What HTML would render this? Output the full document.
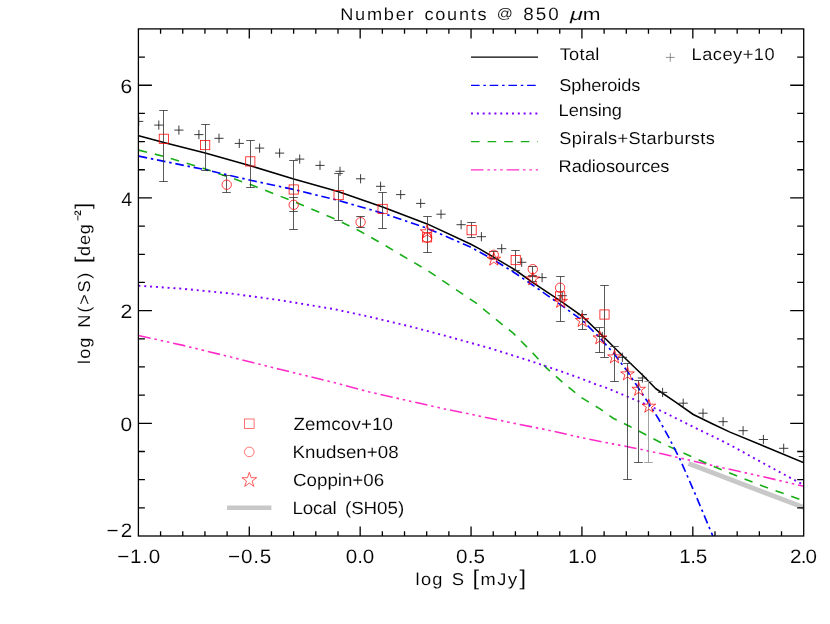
<!DOCTYPE html>
<html><head><meta charset="utf-8"><title>Number counts @ 850 um</title>
<style>
html,body{margin:0;padding:0;background:#fff;}
svg{display:block;}
text{font-family:"Liberation Sans",sans-serif;text-rendering:geometricPrecision;}
</style></head>
<body>
<svg width="830" height="624" viewBox="0 0 830 624">
<defs>
<clipPath id="pc"><rect x="138.40" y="28.90" width="665.30" height="507.70"/></clipPath>
<clipPath id="pc2"><rect x="138.40" y="28.90" width="665.90" height="507.10"/></clipPath>
</defs>
<rect x="0" y="0" width="830" height="624" fill="#fff"/>
<g clip-path="url(#pc)" fill="none" stroke-linejoin="round">
<polyline points="688.5,463.5 804.0,507.6" stroke="#c8c8c8" stroke-width="4.8"/>
<polyline points="138.4,335.5 183.2,345.4 231.4,357.2 279.6,369.3 335.0,382.8 368.6,391.8 407.1,400.5 445.7,409.2 470.0,414.1 508.6,422.2 547.1,429.9 585.7,438.6 630.0,447.2 662.0,453.8 686.0,459.4 715.0,466.1 763.1,476.7 803.7,486.3" stroke="#ff2cc8" stroke-width="1.6" stroke-dasharray="12.5 3.9 2.5 3.9 2.5 3.9 2.5 3.9"/>
<polyline points="138.7,150.1 163.8,156.4 205.2,168.9 250.3,184.5 293.7,201.5 338.0,220.3 360.6,231.5 382.6,244.0 427.2,270.3 455.3,289.1 476.6,303.4 500.0,322.7 513.5,333.4 532.6,352.8 546.9,368.4 562.7,382.4 580.3,396.8 600.0,408.9 613.6,418.5 630.0,426.5 662.0,443.3 692.5,457.0 715.0,467.1 763.1,486.3 804.0,500.8" stroke="#18ae18" stroke-width="1.6" stroke-dasharray="8.6 8"/>
<polyline points="138.4,285.7 183.2,288.8 231.4,293.6 279.6,300.1 335.0,309.3 368.6,316.6 407.1,325.7 445.7,335.9 488.5,347.8 528.0,360.2 558.9,370.6 580.3,378.2 595.0,384.0 608.0,388.4 630.0,397.7 662.0,411.3 694.1,427.3 715.0,437.4 730.0,444.9 763.1,463.1 803.7,485.0" stroke="#7f00ff" stroke-width="1.9" stroke-dasharray="2 3.85"/>
<polyline points="138.7,156.1 205.2,169.7 250.3,180.2 293.7,189.5 338.0,200.3 382.6,213.2 427.2,228.3 470.4,247.0 480.0,252.2 494.4,260.3 515.3,273.2 532.9,285.2 560.0,304.3 582.4,320.4 600.1,338.1 614.5,354.3 627.3,371.2 638.8,388.5 649.2,404.1 658.8,419.3 668.5,436.9 679.7,458.6 694.9,493.3 712.8,536.0" stroke="#0000ff" stroke-width="1.65" stroke-dasharray="8.6 3.8 2.5 3.8"/>
<polyline points="138.7,135.8 163.8,142.6 205.2,153.1 250.3,165.7 293.7,179.0 338.0,191.5 382.6,207.1 427.2,223.9 470.4,244.0 480.0,249.1 494.4,257.7 515.3,270.0 532.9,282.6 560.0,300.6 582.4,316.4 603.3,336.5 624.1,357.3 643.3,375.7 655.6,388.5 674.9,401.7 693.3,414.5 713.3,424.3 730.0,432.1 804.0,462.8" stroke="#000" stroke-width="1.55"/>
</g>
<g clip-path="url(#pc2)">
<path d="M134.1 121.4h9.2M138.7 116.8v9.2" stroke="#262626" stroke-width="0.9" fill="none"/>
<path d="M154.2 125.1h9.2M158.8 120.5v9.2" stroke="#262626" stroke-width="0.9" fill="none"/>
<path d="M174.3 130.1h9.2M178.9 125.5v9.2" stroke="#262626" stroke-width="0.9" fill="none"/>
<path d="M194.3 134.6h9.2M198.9 130.0v9.2" stroke="#262626" stroke-width="0.9" fill="none"/>
<path d="M214.4 138.3h9.2M219.0 133.7v9.2" stroke="#262626" stroke-width="0.9" fill="none"/>
<path d="M234.7 143.4h9.2M239.3 138.8v9.2" stroke="#262626" stroke-width="0.9" fill="none"/>
<path d="M255.0 148.1h9.2M259.6 143.5v9.2" stroke="#262626" stroke-width="0.9" fill="none"/>
<path d="M275.0 153.1h9.2M279.6 148.5v9.2" stroke="#262626" stroke-width="0.9" fill="none"/>
<path d="M295.1 159.1h9.2M299.7 154.5v9.2" stroke="#262626" stroke-width="0.9" fill="none"/>
<path d="M315.4 165.4h9.2M320.0 160.8v9.2" stroke="#262626" stroke-width="0.9" fill="none"/>
<path d="M335.4 171.3h9.2M340.0 166.7v9.2" stroke="#262626" stroke-width="0.9" fill="none"/>
<path d="M356.0 178.8h9.2M360.6 174.2v9.2" stroke="#262626" stroke-width="0.9" fill="none"/>
<path d="M376.0 186.3h9.2M380.6 181.7v9.2" stroke="#262626" stroke-width="0.9" fill="none"/>
<path d="M396.1 194.6h9.2M400.7 190.0v9.2" stroke="#262626" stroke-width="0.9" fill="none"/>
<path d="M416.1 203.4h9.2M420.7 198.8v9.2" stroke="#262626" stroke-width="0.9" fill="none"/>
<path d="M436.4 214.2h9.2M441.0 209.6v9.2" stroke="#262626" stroke-width="0.9" fill="none"/>
<path d="M456.5 224.7h9.2M461.1 220.1v9.2" stroke="#262626" stroke-width="0.9" fill="none"/>
<path d="M476.8 236.7h9.2M481.4 232.1v9.2" stroke="#262626" stroke-width="0.9" fill="none"/>
<path d="M497.1 248.7h9.2M501.7 244.1v9.2" stroke="#262626" stroke-width="0.9" fill="none"/>
<path d="M517.1 262.3h9.2M521.7 257.7v9.2" stroke="#262626" stroke-width="0.9" fill="none"/>
<path d="M537.5 277.6h9.2M542.1 273.0v9.2" stroke="#262626" stroke-width="0.9" fill="none"/>
<path d="M557.6 295.7h9.2M562.2 291.1v9.2" stroke="#262626" stroke-width="0.9" fill="none"/>
<path d="M577.6 314.7h9.2M582.2 310.1v9.2" stroke="#262626" stroke-width="0.9" fill="none"/>
<path d="M597.7 336.5h9.2M602.3 331.9v9.2" stroke="#262626" stroke-width="0.9" fill="none"/>
<path d="M617.8 357.3h9.2M622.4 352.7v9.2" stroke="#262626" stroke-width="0.9" fill="none"/>
<path d="M637.8 378.0h9.2M642.4 373.4v9.2" stroke="#262626" stroke-width="0.9" fill="none"/>
<path d="M658.0 392.4h9.2M662.6 387.8v9.2" stroke="#262626" stroke-width="0.9" fill="none"/>
<path d="M678.6 403.2h9.2M683.2 398.6v9.2" stroke="#262626" stroke-width="0.9" fill="none"/>
<path d="M698.4 413.2h9.2M703.0 408.6v9.2" stroke="#262626" stroke-width="0.9" fill="none"/>
<path d="M718.5 421.7h9.2M723.1 417.1v9.2" stroke="#262626" stroke-width="0.9" fill="none"/>
<path d="M738.5 430.7h9.2M743.1 426.1v9.2" stroke="#262626" stroke-width="0.9" fill="none"/>
<path d="M758.8 439.5h9.2M763.4 434.9v9.2" stroke="#262626" stroke-width="0.9" fill="none"/>
<path d="M779.1 448.3h9.2M783.7 443.7v9.2" stroke="#262626" stroke-width="0.9" fill="none"/>
<path d="M798.8 456.5h9.2M803.4 451.9v9.2" stroke="#262626" stroke-width="0.9" fill="none"/>
</g>
<path d="M163.5 110.5V181.5M159.2 110.5h8.6M159.2 181.5h8.6" stroke="#303030" stroke-width="0.8" fill="none"/>
<path d="M205.5 124.5V170.5M201.2 124.5h8.6M201.2 170.5h8.6" stroke="#303030" stroke-width="0.8" fill="none"/>
<path d="M250.5 140.5V187.5M246.2 140.5h8.6M246.2 187.5h8.6" stroke="#303030" stroke-width="0.8" fill="none"/>
<path d="M293.5 160.5V229.5M289.2 160.5h8.6M289.2 229.5h8.6" stroke="#303030" stroke-width="0.8" fill="none"/>
<path d="M338.5 173.5V220.5M334.2 173.5h8.6M334.2 220.5h8.6" stroke="#303030" stroke-width="0.8" fill="none"/>
<path d="M382.5 192.5V228.5M378.2 192.5h8.6M378.2 228.5h8.6" stroke="#303030" stroke-width="0.8" fill="none"/>
<path d="M427.5 216.5V252.5M423.2 216.5h8.6M423.2 252.5h8.6" stroke="#303030" stroke-width="0.8" fill="none"/>
<path d="M471.5 222.5V237.5M467.2 222.5h8.6M467.2 237.5h8.6" stroke="#303030" stroke-width="0.8" fill="none"/>
<path d="M515.5 250.5V270.5M511.2 250.5h8.6M511.2 270.5h8.6" stroke="#303030" stroke-width="0.8" fill="none"/>
<path d="M560.5 276.5V321.5M556.2 276.5h8.6M556.2 321.5h8.6" stroke="#303030" stroke-width="0.8" fill="none"/>
<path d="M604.5 285.5V357.5M600.2 285.5h8.6M600.2 357.5h8.6" stroke="#303030" stroke-width="0.8" fill="none"/>
<path d="M226.5 175.5V192.5M222.2 175.5h8.6M222.2 192.5h8.6" stroke="#303030" stroke-width="0.8" fill="none"/>
<path d="M293.5 197.5V211.5M289.2 197.5h8.6M289.2 211.5h8.6" stroke="#303030" stroke-width="0.8" fill="none"/>
<path d="M360.5 216.5V227.5M356.2 216.5h8.6M356.2 227.5h8.6" stroke="#303030" stroke-width="0.8" fill="none"/>
<path d="M493.5 251.5V258.5M489.2 251.5h8.6M489.2 258.5h8.6" stroke="#303030" stroke-width="0.8" fill="none"/>
<path d="M532.5 266.5V275.5M528.2 266.5h8.6M528.2 275.5h8.6" stroke="#303030" stroke-width="0.8" fill="none"/>
<path d="M532.5 276.5V281.5M528.2 276.5h8.6M528.2 281.5h8.6" stroke="#303030" stroke-width="0.8" fill="none"/>
<path d="M582.5 314.5V329.5M578.2 314.5h8.6M578.2 329.5h8.6" stroke="#303030" stroke-width="0.8" fill="none"/>
<path d="M599.5 327.5V352.5M595.2 327.5h8.6M595.2 352.5h8.6" stroke="#303030" stroke-width="0.8" fill="none"/>
<path d="M614.5 346.5V381.5M610.2 346.5h8.6M610.2 381.5h8.6" stroke="#303030" stroke-width="0.8" fill="none"/>
<path d="M627.5 363.5V479.5M623.2 363.5h8.6M623.2 479.5h8.6" stroke="#303030" stroke-width="0.8" fill="none"/>
<path d="M638.5 380.5V462.5M634.2 380.5h8.6M634.2 462.5h8.6" stroke="#303030" stroke-width="0.8" fill="none"/>
<path d="M648.5 381.5V462.5M644.2 381.5h8.6M644.2 462.5h8.6" stroke="#8c8c8c" stroke-width="0.8" fill="none"/>
<rect x="159.2" y="134.2" width="9.2" height="9.2" stroke="#f00" stroke-width="0.75" fill="none"/>
<rect x="200.6" y="140.5" width="9.2" height="9.2" stroke="#f00" stroke-width="0.75" fill="none"/>
<rect x="245.7" y="156.8" width="9.2" height="9.2" stroke="#f00" stroke-width="0.75" fill="none"/>
<rect x="289.1" y="184.9" width="9.2" height="9.2" stroke="#f00" stroke-width="0.75" fill="none"/>
<rect x="334.0" y="190.5" width="9.2" height="9.2" stroke="#f00" stroke-width="0.75" fill="none"/>
<rect x="378.0" y="204.3" width="9.2" height="9.2" stroke="#f00" stroke-width="0.75" fill="none"/>
<rect x="422.5" y="232.7" width="9.2" height="9.2" stroke="#f00" stroke-width="0.75" fill="none"/>
<rect x="467.0" y="225.6" width="9.2" height="9.2" stroke="#f00" stroke-width="0.75" fill="none"/>
<rect x="511.1" y="255.5" width="9.2" height="9.2" stroke="#f00" stroke-width="0.75" fill="none"/>
<rect x="555.6" y="291.8" width="9.2" height="9.2" stroke="#f00" stroke-width="0.75" fill="none"/>
<rect x="599.9" y="309.9" width="9.2" height="9.2" stroke="#f00" stroke-width="0.75" fill="none"/>
<circle cx="226.7" cy="184.7" r="4.7" stroke="#f00" stroke-width="0.75" fill="none"/>
<circle cx="293.7" cy="204.8" r="4.7" stroke="#f00" stroke-width="0.75" fill="none"/>
<circle cx="360.6" cy="222.2" r="4.7" stroke="#f00" stroke-width="0.75" fill="none"/>
<circle cx="427.1" cy="237.8" r="4.7" stroke="#f00" stroke-width="0.75" fill="none"/>
<circle cx="493.8" cy="254.8" r="4.7" stroke="#f00" stroke-width="0.75" fill="none"/>
<circle cx="532.8" cy="269.2" r="4.7" stroke="#f00" stroke-width="0.75" fill="none"/>
<circle cx="560.1" cy="287.7" r="4.7" stroke="#f00" stroke-width="0.75" fill="none"/>
<polygon points="427.1,224.8 428.7,229.8 433.9,229.8 429.7,232.8 431.3,237.8 427.1,234.8 422.9,237.8 424.5,232.8 420.3,229.8 425.5,229.8" stroke="#f00" stroke-width="0.75" fill="none"/>
<polygon points="493.8,252.2 495.4,257.2 500.6,257.2 496.4,260.2 498.0,265.2 493.8,262.2 489.6,265.2 491.2,260.2 487.0,257.2 492.2,257.2" stroke="#f00" stroke-width="0.75" fill="none"/>
<polygon points="532.8,271.9 534.4,276.9 539.6,276.9 535.4,279.9 537.0,284.9 532.8,281.9 528.6,284.9 530.2,279.9 526.0,276.9 531.2,276.9" stroke="#f00" stroke-width="0.75" fill="none"/>
<polygon points="560.7,294.4 562.3,299.4 567.5,299.4 563.3,302.4 564.9,307.4 560.7,304.4 556.5,307.4 558.1,302.4 553.9,299.4 559.1,299.4" stroke="#f00" stroke-width="0.75" fill="none"/>
<polygon points="582.2,313.5 583.8,318.5 589.0,318.5 584.8,321.5 586.4,326.5 582.2,323.5 578.0,326.5 579.6,321.5 575.4,318.5 580.6,318.5" stroke="#f00" stroke-width="0.75" fill="none"/>
<polygon points="599.8,330.9 601.4,335.9 606.6,335.9 602.4,338.9 604.0,343.9 599.8,340.9 595.6,343.9 597.2,338.9 593.0,335.9 598.2,335.9" stroke="#f00" stroke-width="0.75" fill="none"/>
<polygon points="614.5,349.9 616.1,354.9 621.3,354.9 617.1,357.9 618.7,362.9 614.5,359.9 610.3,362.9 611.9,357.9 607.7,354.9 612.9,354.9" stroke="#f00" stroke-width="0.75" fill="none"/>
<polygon points="627.5,366.9 629.1,371.9 634.3,371.9 630.1,374.9 631.7,379.9 627.5,376.9 623.3,379.9 624.9,374.9 620.7,371.9 625.9,371.9" stroke="#f00" stroke-width="0.75" fill="none"/>
<polygon points="638.7,382.3 640.3,387.3 645.5,387.3 641.3,390.3 642.9,395.3 638.7,392.3 634.5,395.3 636.1,390.3 631.9,387.3 637.1,387.3" stroke="#f00" stroke-width="0.75" fill="none"/>
<polygon points="648.9,399.2 650.5,404.2 655.7,404.2 651.5,407.2 653.1,412.2 648.9,409.2 644.7,412.2 646.3,407.2 642.1,404.2 647.3,404.2" stroke="#f00" stroke-width="0.75" fill="none"/>
<path d="M160.58 536.00v-4.8M160.58 28.90v4.8M182.75 536.00v-4.8M182.75 28.90v4.8M204.93 536.00v-4.8M204.93 28.90v4.8M227.11 536.00v-4.8M227.11 28.90v4.8M249.28 536.00v-9.6M249.28 28.90v9.6M271.46 536.00v-4.8M271.46 28.90v4.8M293.64 536.00v-4.8M293.64 28.90v4.8M315.81 536.00v-4.8M315.81 28.90v4.8M337.99 536.00v-4.8M337.99 28.90v4.8M360.17 536.00v-9.6M360.17 28.90v9.6M382.34 536.00v-4.8M382.34 28.90v4.8M404.52 536.00v-4.8M404.52 28.90v4.8M426.70 536.00v-4.8M426.70 28.90v4.8M448.87 536.00v-4.8M448.87 28.90v4.8M471.05 536.00v-9.6M471.05 28.90v9.6M493.23 536.00v-4.8M493.23 28.90v4.8M515.40 536.00v-4.8M515.40 28.90v4.8M537.58 536.00v-4.8M537.58 28.90v4.8M559.76 536.00v-4.8M559.76 28.90v4.8M581.93 536.00v-9.6M581.93 28.90v9.6M604.11 536.00v-4.8M604.11 28.90v4.8M626.29 536.00v-4.8M626.29 28.90v4.8M648.46 536.00v-4.8M648.46 28.90v4.8M670.64 536.00v-4.8M670.64 28.90v4.8M692.82 536.00v-9.6M692.82 28.90v9.6M714.99 536.00v-4.8M714.99 28.90v4.8M737.17 536.00v-4.8M737.17 28.90v4.8M759.35 536.00v-4.8M759.35 28.90v4.8M781.52 536.00v-4.8M781.52 28.90v4.8M138.40 507.83h6.5M803.70 507.83h-6.5M138.40 479.66h6.5M803.70 479.66h-6.5M138.40 451.48h6.5M803.70 451.48h-6.5M138.40 423.31h13.5M803.70 423.31h-13.5M138.40 395.14h6.5M803.70 395.14h-6.5M138.40 366.97h6.5M803.70 366.97h-6.5M138.40 338.79h6.5M803.70 338.79h-6.5M138.40 310.62h13.5M803.70 310.62h-13.5M138.40 282.45h6.5M803.70 282.45h-6.5M138.40 254.28h6.5M803.70 254.28h-6.5M138.40 226.11h6.5M803.70 226.11h-6.5M138.40 197.93h13.5M803.70 197.93h-13.5M138.40 169.76h6.5M803.70 169.76h-6.5M138.40 141.59h6.5M803.70 141.59h-6.5M138.40 113.42h6.5M803.70 113.42h-6.5M138.40 85.24h13.5M803.70 85.24h-13.5M138.40 57.07h6.5M803.70 57.07h-6.5" stroke="#000" stroke-width="1.3" fill="none"/>
<rect x="138.40" y="28.90" width="665.30" height="507.10" stroke="#000" stroke-width="1.3" fill="none"/>
<g font-family="Liberation Sans, sans-serif" font-size="17.2" fill="#000" stroke="#fff" stroke-width="0.1" style="filter:grayscale(1)">
<text transform="translate(117.17,563.00) scale(1.0600,1)" font-size="19.50" letter-spacing="0.703">−1.0</text>
<text transform="translate(228.07,563.00) scale(1.0600,1)" font-size="19.50" letter-spacing="0.720">−0.5</text>
<text transform="translate(345.87,563.00) scale(1.0600,1)" font-size="19.50" letter-spacing="-0.203">0.0</text>
<text transform="translate(455.97,563.00) scale(1.0600,1)" font-size="19.50" letter-spacing="0.152">0.5</text>
<text transform="translate(568.15,563.00) scale(1.0600,1)" font-size="19.50" letter-spacing="-0.050">1.0</text>
<text transform="translate(679.25,563.00) scale(1.0600,1)" font-size="19.50" letter-spacing="-0.356">1.5</text>
<text transform="translate(790.07,563.00) scale(1.0600,1)" font-size="19.50" letter-spacing="-0.813">2.0</text>
<text transform="translate(106.57,536.60) scale(1.0600,1)" font-size="19.50" letter-spacing="1.984">−2</text>
<text transform="translate(120.46,430.91) scale(1.0740,1)" font-size="19.50" letter-spacing="0.000">0</text>
<text transform="translate(120.53,318.22) scale(1.0933,1)" font-size="19.50" letter-spacing="0.000">2</text>
<text transform="translate(121.16,205.53) scale(1.0053,1)" font-size="19.50" letter-spacing="0.000">4</text>
<text transform="translate(120.55,92.84) scale(1.0755,1)" font-size="19.50" letter-spacing="0.000">6</text>
<text transform="translate(340.20,20.10) scale(1.0600,1)" font-size="17.20" letter-spacing="1.635">Number</text>
<text transform="translate(424.43,20.10) scale(1.0600,1)" font-size="17.20" letter-spacing="1.618">counts</text>
<text transform="translate(496.67,18.20) scale(1.1426,1)" font-size="13.90" letter-spacing="0.000">@</text>
<text transform="translate(523.20,20.10) scale(1.0600,1)" font-size="17.80" letter-spacing="1.956">850</text>
<text transform="translate(570.07,20.10) scale(1.3680,1)" font-size="17.20" letter-spacing="0.000" font-style="italic">μ</text>
<text transform="translate(582.76,20.10) scale(1.2375,1)" font-size="17.20" letter-spacing="0.000">m</text>
<text transform="translate(415.57,585.10) scale(1.0600,1)" font-size="17.20" letter-spacing="1.215">log</text>
<text transform="translate(451.77,585.10) scale(1.0718,1)" font-size="17.20" letter-spacing="0.000">S</text>
<text transform="translate(472.57,585.10) scale(1.1173,1)" font-size="21.30" letter-spacing="0.000">[</text>
<text transform="translate(480.47,585.10) scale(1.0600,1)" font-size="17.20" letter-spacing="1.541">mJy</text>
<text transform="translate(519.42,585.10) scale(1.1033,1)" font-size="21.30" letter-spacing="0.000">]</text>
<text transform="translate(89.7,362.7) rotate(-90) translate(-1.23,0.00) scale(1.0600,1)" font-size="17.20" letter-spacing="0.979">log</text>
<text transform="translate(89.7,362.7) rotate(-90) translate(35.00,0.00) scale(1.0600,1)" font-size="17.20" letter-spacing="1.664">N(&gt;S)</text>
<text transform="translate(89.7,362.7) rotate(-90) translate(99.57,0.00) scale(1.1173,1)" font-size="21.30" letter-spacing="0.000">[</text>
<text transform="translate(89.7,362.7) rotate(-90) translate(106.73,0.00) scale(1.0600,1)" font-size="17.20" letter-spacing="0.713">deg</text>
<text transform="translate(89.7,362.7) rotate(-90) translate(141.80,-8.80) scale(1.0600,1)" font-size="9.50" letter-spacing="-0.729" font-weight="bold">−2</text>
<text transform="translate(89.7,362.7) rotate(-90) translate(153.82,0.00) scale(1.1033,1)" font-size="21.30" letter-spacing="0.000">]</text>
<text transform="translate(559.69,59.60) scale(1.0600,1)" font-size="17.20" letter-spacing="0.289">Total</text>
<text transform="translate(559.28,91.00) scale(1.0600,1)" font-size="17.20" letter-spacing="-0.110">Spheroids</text>
<text transform="translate(558.60,115.70) scale(1.0600,1)" font-size="17.20" letter-spacing="-0.097">Lensing</text>
<text transform="translate(559.28,144.00) scale(1.0600,1)" font-size="17.20" letter-spacing="0.344">Spirals+Starbursts</text>
<text transform="translate(558.60,172.30) scale(1.0600,1)" font-size="17.20" letter-spacing="-0.047">Radiosources</text>
<text transform="translate(691.50,59.60) scale(1.0600,1)" font-size="17.20" letter-spacing="0.479">Lacey+10</text>
<text transform="translate(293.39,429.50) scale(1.0600,1)" font-size="17.70" letter-spacing="0.137">Zemcov+10</text>
<text transform="translate(292.45,457.70) scale(1.0600,1)" font-size="17.70" letter-spacing="0.050">Knudsen+08</text>
<text transform="translate(293.06,485.90) scale(1.0600,1)" font-size="17.70" letter-spacing="-0.017">Coppin+06</text>
<text transform="translate(292.45,514.00) scale(1.0600,1)" font-size="17.70" letter-spacing="-0.171">Local</text>
<text transform="translate(344.93,514.00) scale(1.0600,1)" font-size="17.70" letter-spacing="-0.035">(SH05)</text>
</g>
<g fill="none">
<path d="M471 57.1H538" stroke="#000" stroke-width="1.3"/>
<path d="M471 85.4H538" stroke="#0000ff" stroke-width="1.3" stroke-dasharray="8.6 3.8 2.5 3.8"/>
<path d="M471 113.5H538" stroke="#7f00ff" stroke-width="1.8" stroke-dasharray="2 3.85"/>
<path d="M471 141.7H538" stroke="#18ae18" stroke-width="1.3" stroke-dasharray="8.6 8"/>
<path d="M471 169.9H538" stroke="#ff2cc8" stroke-width="1.3" stroke-dasharray="12.5 3.9 2.5 3.9 2.5 3.9 2.5 3.9"/>
</g>
<path d="M665.9 57.4h8.8M670.3 53.0v8.8" stroke="#666" stroke-width="0.7" fill="none"/>
<rect x="244.5" y="419.0" width="9.6" height="9.6" stroke="#f44" stroke-width="0.75" fill="none"/>
<circle cx="249.3" cy="451.9" r="4.8" stroke="#f44" stroke-width="0.75" fill="none"/>
<polygon points="249.3,472.3 251.1,477.7 256.7,477.7 252.1,481.0 253.9,486.4 249.3,483.1 244.7,486.4 246.5,481.0 241.9,477.7 247.5,477.7" stroke="#f33" stroke-width="0.8" fill="none"/>
<path d="M227 507.8H271.4" stroke="#c8c8c8" stroke-width="4.6" fill="none"/>
</svg>
</body></html>
